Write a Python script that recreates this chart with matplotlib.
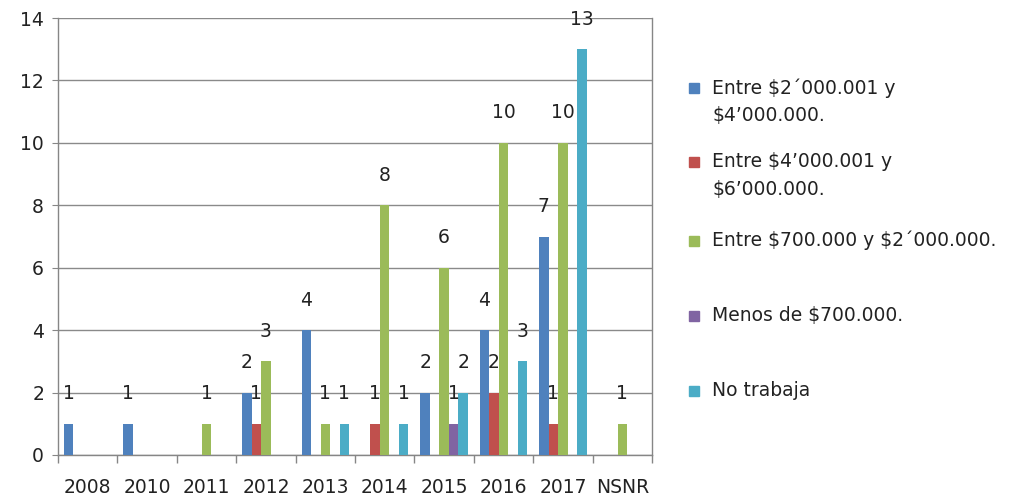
import matplotlib
matplotlib.use("Agg")
import matplotlib.pyplot as plt
import numpy as np
from matplotlib.patches import Rectangle

categories = ["2008", "2010", "2011", "2012", "2013", "2014", "2015", "2016", "2017", "NSNR"]
series_names = ["Entre $2´000.001 y\n$4’000.000.",
                "Entre $4’000.001 y\n$6’000.000.",
                "Entre $700.000 y $2´000.000.",
                "Menos de $700.000.",
                "No trabaja"]
s_2a4 = [1, 1, 0, 2, 4, 0, 2, 4, 7, 0]
s_4a6 = [0, 0, 0, 1, 0, 1, 0, 2, 1, 0]
s_700a2 = [0, 0, 1, 3, 1, 8, 6, 10, 10, 1]
s_menos700 = [0, 0, 0, 0, 0, 0, 1, 0, 0, 0]
s_notrab = [0, 0, 0, 0, 1, 1, 2, 3, 13, 0]
series = [s_2a4, s_4a6, s_700a2, s_menos700, s_notrab]
colors = ["#4F81BD", "#C0504D", "#9BBB59", "#8064A2", "#4BACC6"]
yticks = [0, 2, 4, 6, 8, 10, 12, 14]

plt.rcParams['font.family'] = ['DejaVu Sans']
txt_color = '#222222'

fig = plt.figure(figsize=(10.16, 4.95), dpi=100)
ax = fig.add_axes([58/1016, 1-455/495, (652-58)/1016, (455-18)/495])

n = len(categories)
x = np.arange(n)
w = 1/6.25
for i, (vals, c) in enumerate(zip(series, colors)):
    xs = x - 0.5 + w*0.625 + w*(i+0.5)
    for xi, v in zip(xs, vals):
        if v > 0:
            ax.bar(xi, v, width=w, color=c, zorder=3)
            ax.text(xi, v + 0.66, str(v), ha='center', va='bottom', fontsize=13.5,
                    color=txt_color, zorder=4)

ax.set_xlim(-0.5, n-0.5)
ax.set_ylim(0, 14)
ax.set_yticks(yticks)
ax.set_yticklabels([str(t) for t in yticks], fontsize=13.5, color=txt_color)
ax.set_xticks(np.arange(n+1) - 0.5, minor=False)
ax.set_xticklabels([])
ax.set_xticks(x, minor=True)
ax.set_xticklabels(categories, minor=True, fontsize=13.5, color=txt_color)
ax.tick_params(axis='x', which='major', length=6, color='#868686', width=1)
ax.tick_params(axis='x', which='minor', length=0, pad=16.5)
ax.tick_params(axis='y', length=4, color='#868686', pad=6)
ax.grid(axis='y', color='#8a8a8a', linewidth=1, zorder=0)
ax.spines['top'].set_visible(False)
for s in ['left', 'bottom', 'right']:
    ax.spines[s].set_color('#868686')
    ax.spines[s].set_linewidth(1)

# legend (manual, Excel-like)
leg_y = [88, 162, 241, 316, 391]
for name, c, yy in zip(series_names, colors, leg_y):
    fy = 1 - yy/495
    fig.patches.append(Rectangle((689/1016, fy - 5/495), 10/1016, 10/495,
                                 transform=fig.transFigure, color=c))
    fig.text(712/1016, fy + 10/495, name.replace('$', r'\$'), ha='left', va='top',
             fontsize=13.5, color=txt_color, linespacing=1.6)

fig.savefig("out.png", dpi=100)
